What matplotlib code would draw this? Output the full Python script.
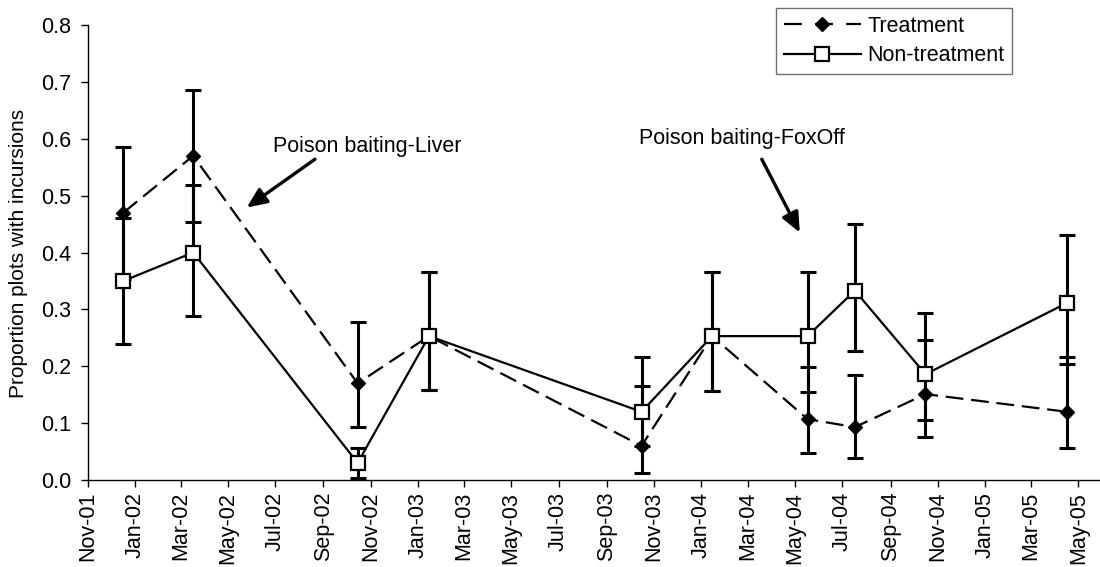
import matplotlib
matplotlib.use('Agg')
import matplotlib.pyplot as plt
import matplotlib.dates as mdates
from matplotlib.lines import Line2D
from matplotlib.ticker import MultipleLocator, FormatStrFormatter
import pandas as pd

# survey dates and proportions
survey_dates = ['2001-12-17', '2002-03-17', '2002-10-15', '2003-01-15', '2003-10-16',
                '2004-01-15', '2004-05-17', '2004-07-17', '2004-10-16', '2005-04-16']

treat = [0.47, 0.57, 0.17, 0.253, 0.06, 0.253, 0.107, 0.093, 0.151, 0.12]
treat_lo = [0.354, 0.454, 0.093, 0.159, 0.012, 0.156, 0.047, 0.038, 0.105, 0.056]
treat_hi = [0.586, 0.686, 0.277, 0.366, 0.166, 0.366, 0.199, 0.185, 0.246, 0.217]

non = [0.35, 0.40, 0.03, 0.253, 0.12, 0.253, 0.253, 0.333, 0.186, 0.311]
non_lo = [0.240, 0.289, 0.003, 0.159, 0.06, 0.156, 0.155, 0.227, 0.075, 0.204]
non_hi = [0.46, 0.519, 0.057, 0.366, 0.216, 0.366, 0.366, 0.451, 0.293, 0.431]

notes = ['Poison baiting-Liver', 'Poison baiting-FoxOff']
note_pos = [('2002-06-28', 0.587), ('2003-10-13', 0.601)]
arrow_tail = [('2002-08-21', 0.564), ('2004-03-19', 0.564)]
arrow_tip = [('2002-05-25', 0.479), ('2004-05-07', 0.435)]


def main():
    plt.rcParams['font.family'] = ['Liberation Sans', 'DejaVu Sans']
    plt.rcParams['font.size'] = 15.5

    x = pd.to_datetime(survey_dates)

    fig = plt.figure(figsize=(11, 5.67), dpi=100)
    ax = fig.add_axes([0.0797, 0.1534, 0.9203, 0.8025])

    t_err = [[v - lo for v, lo in zip(treat, treat_lo)], [hi - v for v, hi in zip(treat, treat_hi)]]
    n_err = [[v - lo for v, lo in zip(non, non_lo)], [hi - v for v, hi in zip(non, non_hi)]]

    ax.errorbar(x, treat, yerr=t_err, fmt='none', ecolor='black',
                elinewidth=2.2, capsize=5.5, capthick=2.2, zorder=2)
    ax.errorbar(x, non, yerr=n_err, fmt='none', ecolor='black',
                elinewidth=2.2, capsize=5.5, capthick=2.2, zorder=2)

    ax.plot(x, treat, color='black', lw=1.6, dashes=(8, 3.5), marker='D',
            markersize=7.5, markerfacecolor='black', markeredgecolor='black',
            zorder=3)
    ax.plot(x, non, color='black', lw=1.6, marker='s', markersize=10,
            markerfacecolor='white', markeredgecolor='black', markeredgewidth=1.6,
            zorder=4)

    for txt, pos, tail, tip in zip(notes, note_pos, arrow_tail, arrow_tip):
        ax.text(pd.Timestamp(pos[0]), pos[1], txt, ha='left', va='center', fontsize=15.5)
        ax.annotate('', xy=(pd.Timestamp(tip[0]), tip[1]),
                    xytext=(pd.Timestamp(tail[0]), tail[1]),
                    arrowprops=dict(arrowstyle='-|>,head_length=0.8,head_width=0.35',
                                    mutation_scale=15, lw=2.4, color='black',
                                    shrinkA=0, shrinkB=0))

    ax.set_xlim(pd.Timestamp('2001-11-01'), pd.Timestamp('2005-05-29'))
    ax.set_ylim(0, 0.8)
    ax.xaxis.set_major_locator(mdates.MonthLocator(bymonth=[1, 3, 5, 7, 9, 11]))
    ax.xaxis.set_major_formatter(mdates.DateFormatter('%b-%y'))
    ax.yaxis.set_major_locator(MultipleLocator(0.1))
    ax.yaxis.set_major_formatter(FormatStrFormatter('%.1f'))
    for lab in ax.get_xticklabels():
        lab.set_rotation(90)
    ax.tick_params(direction='out', length=5, width=1, labelsize=15.5)
    ax.tick_params(axis='y', pad=7)

    for s in ['top', 'right']:
        ax.spines[s].set_visible(False)
    for s in ['left', 'bottom']:
        ax.spines[s].set_linewidth(1)

    fig.text(0.0164, 0.553, 'Proportion plots with incursions', rotation=90,
             ha='center', va='center', fontsize=15)

    # legend proxies so the dashed handle reads as "— ◆ —"
    h_treat = Line2D([], [], color='black', lw=1.6, dashes=(8, 6), marker='D',
                     markersize=7.5, markerfacecolor='black', markeredgecolor='black')
    h_non = Line2D([], [], color='black', lw=1.6, marker='s', markersize=10,
                   markerfacecolor='white', markeredgecolor='black', markeredgewidth=1.6)
    leg = ax.legend([h_treat, h_non], ['Treatment', 'Non-treatment'],
                    loc='upper right', bbox_to_anchor=(1012.3 / 1100, 1 - 8 / 567),
                    bbox_transform=fig.transFigure, borderaxespad=0,
                    handlelength=3.6, handletextpad=0.3, labelspacing=0.4,
                    borderpad=0.35, fancybox=False, framealpha=1, fontsize=15.5)
    leg.get_frame().set_edgecolor('#707070')
    leg.get_frame().set_linewidth(1)

    fig.savefig('out.png', dpi=100)


if __name__ == "__main__":
    main()
